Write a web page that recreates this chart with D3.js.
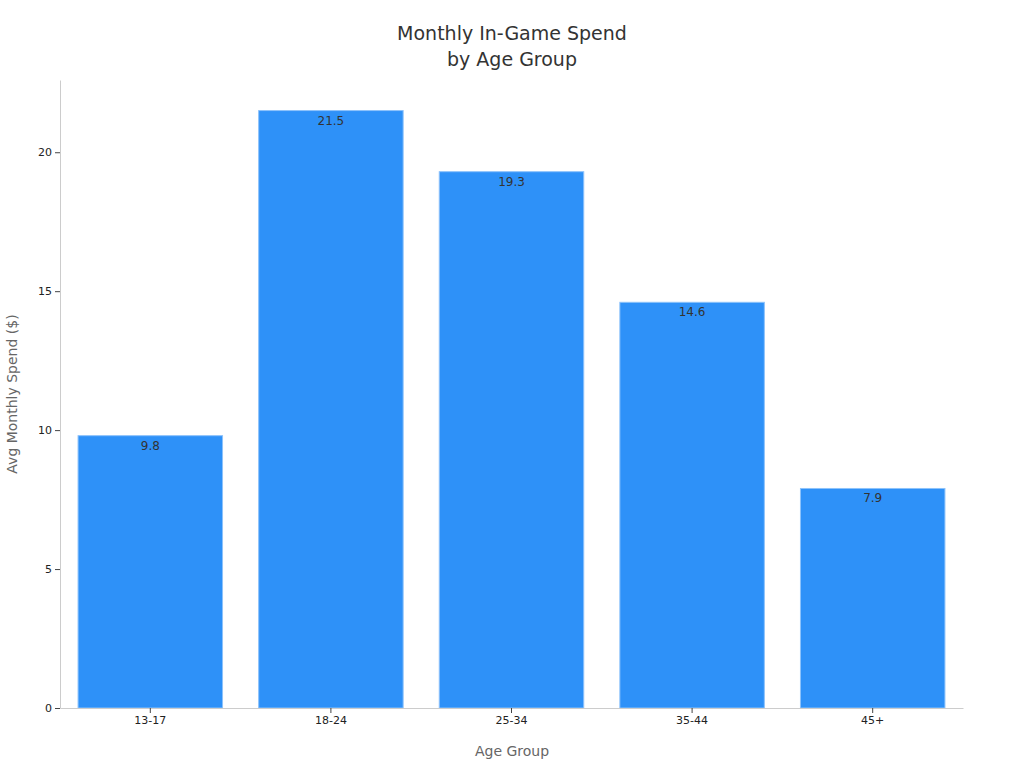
<!DOCTYPE html>
<html><head><meta charset="utf-8">
<script src="https://cdn.jsdelivr.net/npm/d3@7"></script>
<style>body{margin:0;background:#fff;font-family:"DejaVu Sans",sans-serif;}</style>
</head><body><div id="chart"></div>
<script>
var ageGroups = ["13-17", "18-24", "25-34", "35-44", "45+"];
var avgSpend = [9.8, 21.5, 19.3, 14.6, 7.9];
var yTicks = [0, 5, 10, 15, 20];

var margin = {top: 80, right: 61, bottom: 60, left: 60},
    width = 1024 - margin.left - margin.right,
    height = 768 - margin.top - margin.bottom;

var svgRoot = d3.select('#chart').append('svg').attr('width', 1024).attr('height', 768);
var svg = svgRoot.append('g').attr('transform', 'translate(' + margin.left + ',' + margin.top + ')');

var x = d3.scaleBand().domain(ageGroups).range([0, width]).paddingInner(0.2).paddingOuter(0.1);
var y = d3.scaleLinear().domain([0, 22.6]).range([height, 0]);

svgRoot.append('text').attr('x', 512).attr('y', 40).attr('text-anchor', 'middle')
  .style('font-size', '19px').style('fill', '#333').text('Monthly In-Game Spend');
svgRoot.append('text').attr('x', 512).attr('y', 66).attr('text-anchor', 'middle')
  .style('font-size', '19px').style('fill', '#333').text('by Age Group');

svg.selectAll('.bar').data(avgSpend).enter().append('rect')
  .attr('x', function(d, i) { return x(ageGroups[i]); })
  .attr('y', function(d) { return y(d); })
  .attr('width', x.bandwidth())
  .attr('height', function(d) { return height - y(d); })
  .attr('fill', '#2e91f8').attr('stroke', '#8cc2fb').attr('stroke-width', 1);

svg.selectAll('.lbl').data(avgSpend).enter().append('text')
  .attr('x', function(d, i) { return x(ageGroups[i]) + x.bandwidth() / 2; })
  .attr('y', function(d) { return y(d) + 14; })
  .attr('text-anchor', 'middle').style('font-size', '12px').style('fill', '#333')
  .text(function(d) { return d; });

var xAxis = svg.append('g').attr('transform', 'translate(0,' + height + ')')
  .call(d3.axisBottom(x).tickSize(5).tickSizeOuter(0));
var yAxis = svg.append('g').call(d3.axisLeft(y).tickValues(yTicks).tickSize(5).tickSizeOuter(0));
[xAxis, yAxis].forEach(function(a) {
  a.select('.domain').attr('stroke', '#ccc');
  a.selectAll('.tick line').attr('stroke', '#444');
  a.selectAll('.tick text').style('font-size', '11px').style('fill', '#222').style('font-family', '"DejaVu Sans",sans-serif');
});

svgRoot.append('text').attr('x', 512).attr('y', 756).attr('text-anchor', 'middle')
  .style('font-size', '14px').style('fill', '#666').text('Age Group');
svgRoot.append('text').attr('transform', 'translate(17,' + (margin.top + height / 2) + ') rotate(-90)')
  .attr('text-anchor', 'middle').style('font-size', '14px').style('fill', '#666').text('Avg Monthly Spend ($)');
</script></body></html>
